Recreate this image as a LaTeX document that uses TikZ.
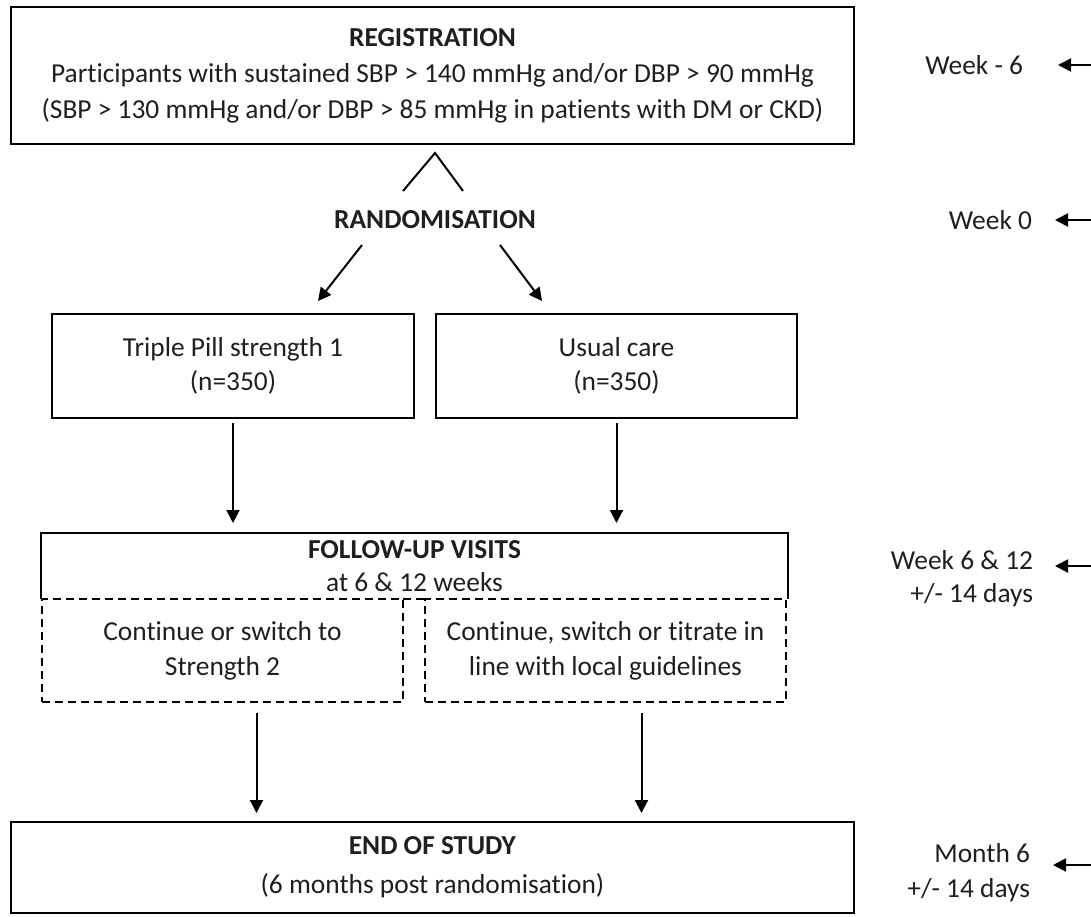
\documentclass[tikz,border=0pt]{standalone}
\usepackage{fontspec}
\setmainfont{Carlito}[Ligatures=NoCommon]
\usetikzlibrary{arrows.meta}

\begin{document}
\begin{tikzpicture}[x=0.5pt,y=-0.5pt,inner sep=0pt,outer sep=0pt,line width=1pt,
>={Triangle[length=6.5pt,width=6.5pt]},
font=\fontsize{13.7}{17}\selectfont,
every node/.style={text=black!88},
flowbox/.style={draw,rectangle,align=center,minimum width=180.5pt,minimum height=52pt},
widebox/.style={flowbox,minimum width=421.5pt},
optbox/.style={flowbox,dash pattern=on 4pt off 2.5pt,minimum height=51.5pt},
timelabel/.style={anchor=east,align=right}]
\useasboundingbox (0,0) rectangle (1091,916);
\draw (432.5,75.5) node[widebox,minimum height=68.5pt] (reg) {\textbf{REGISTRATION}\\[1pt]Participants with sustained SBP > 140 mmHg and/or DBP > 90 mmHg\\[1pt](SBP > 130 mmHg and/or DBP > 85 mmHg in patients with DM or CKD)};
\draw (435,220) node (rand) {\textbf{RANDOMISATION}};
\draw (233,366) node[flowbox,minimum width=181pt] (trip) {Triple Pill strength 1\\(n=350)};
\draw (616.5,366) node[flowbox] (usual) {Usual care\\(n=350)};
\draw (414.5,566) node[align=center,minimum width=373.5pt,minimum height=33pt] (fu) {\textbf{FOLLOW-UP VISITS}\\[-0.5pt]at 6 \& 12 weeks};
\draw (222.5,650.5) node[optbox] (cont) {Continue or switch to\\[0.5pt]Strength 2};
\draw (605.5,650.5) node[optbox] (titr) {Continue, switch or titrate in\\[0.5pt]line with local guidelines};
\draw (432.5,867.5) node[widebox,minimum height=45.5pt] (endst) {\textbf{END OF STUDY}\\[2.5pt](6 months post randomisation)};
\draw (1023,65) node[timelabel] (wkm6) {Week - 6};
\draw (1032,220) node[timelabel] (wk0) {Week 0};
\draw (1033,579) node[timelabel] (wk12) {Week 6 \& 12\\[-0.5pt]+/- 14 days};
\draw (1030,873) node[timelabel] (mo6) {Month 6\\[0.5pt]+/- 14 days};
\draw (fu.south west) -- (fu.north west) -- (fu.north east) -- (fu.south east);
\draw[dash pattern=on 4pt off 2.5pt] (cont.north east) -- (titr.north west);
\coordinate (apex) at (435,153);
\coordinate (splitL) at (403,191);
\coordinate (splitR) at (463,191);
\draw (splitL) -- (apex) -- (splitR);
\coordinate (randL) at (362,245);
\coordinate (randR) at (500,245);
\coordinate (tripin) at (318,301);
\coordinate (usualin) at (542,301);
\draw[->] (randL) -- (tripin);
\draw[->] (randR) -- (usualin);
\draw[->,shorten <=2.5pt,shorten >=5pt] (trip.south) -- (trip.south |- fu.north);
\draw[->,shorten <=2.5pt,shorten >=5pt] (usual.south) -- (usual.south |- fu.north);
\draw[->,shorten <=5.5pt,shorten >=4.5pt] ([xshift=17pt]cont.south) -- ([xshift=17pt]cont.south |- endst.north);
\draw[->,shorten <=5.5pt,shorten >=4.5pt] ([xshift=18pt]titr.south) -- ([xshift=18pt]titr.south |- endst.north);
\coordinate (edgeA) at (1091,65);
\coordinate (edgeB) at (1091,220);
\coordinate (edgeC) at (1091,566);
\coordinate (edgeD) at (1091,865);
\draw[->,shorten >=17.5pt] (edgeA) -- (edgeA -| wkm6.east);
\draw[->,shorten >=11.5pt] (edgeB) -- (edgeB -| wk0.east);
\draw[->,shorten >=11pt] (edgeC) -- (edgeC -| wk12.east);
\draw[->,shorten >=11.5pt] (edgeD) -- (edgeD -| mo6.east);
\end{tikzpicture}
\end{document}
